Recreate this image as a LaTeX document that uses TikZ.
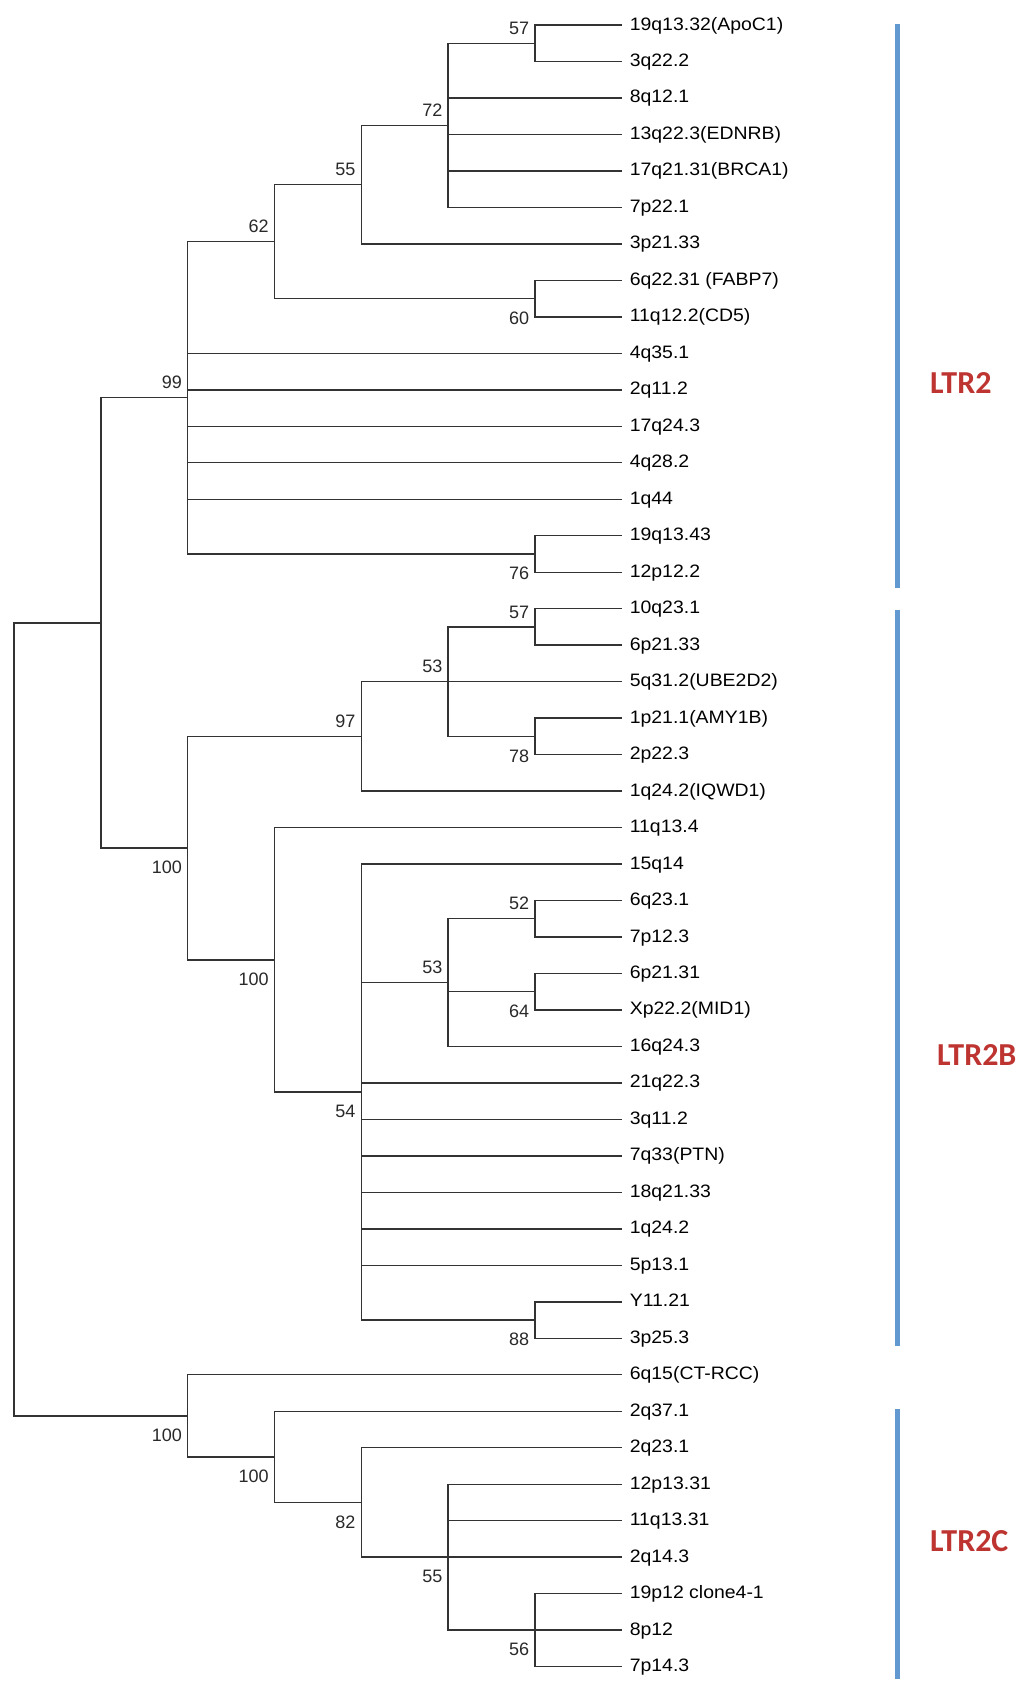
\documentclass[tikz,border=0pt]{standalone}
\usepackage{fontspec}
\setmainfont{Liberation Sans}
\newfontfamily\ltrfont{Carlito}
\definecolor{treeline}{HTML}{333333}
\definecolor{barblue}{RGB}{98,153,209}
\definecolor{ltrred}{RGB}{190,52,48}
\newcommand\leafy[1]{25+(#1-1)*36.48}
\begin{document}
\begin{tikzpicture}[x=1pt,y=-1pt,
  br/.style={draw=treeline,line width=1.4pt},
  leaflab/.style={anchor=base west,inner sep=0pt,font=\fontsize{18}{20}\selectfont},
  bsa/.style={anchor=south east,inner sep=0pt,font=\fontsize{18}{20}\selectfont,text=treeline!80!black},
  bsb/.style={anchor=north east,inner sep=0pt,font=\fontsize{18}{20}\selectfont,text=treeline!80!black},
  bar/.style={draw=barblue,line width=5pt},
  ltr/.style={anchor=west,inner sep=0pt,text=ltrred,font=\ltrfont\bfseries\fontsize{32}{36}\selectfont}]
\useasboundingbox (0,0) rectangle (1024,1687);
\fill[white] (0,0) rectangle (1024,1687);
% leaves
\foreach \i/\t in {1/{19q13.32(ApoC1)},2/{3q22.2},3/{8q12.1},4/{13q22.3(EDNRB)},5/{17q21.31(BRCA1)},6/{7p22.1},7/{3p21.33},8/{6q22.31 (FABP7)},9/{11q12.2(CD5)},10/{4q35.1},11/{2q11.2},12/{17q24.3},13/{4q28.2},14/{1q44},15/{19q13.43},16/{12p12.2},17/{10q23.1},18/{6p21.33},19/{5q31.2(UBE2D2)},20/{1p21.1(AMY1B)},21/{2p22.3},22/{1q24.2(IQWD1)},23/{11q13.4},24/{15q14},25/{6q23.1},26/{7p12.3},27/{6p21.31},28/{Xp22.2(MID1)},29/{16q24.3},30/{21q22.3},31/{3q11.2},32/{7q33(PTN)},33/{18q21.33},34/{1q24.2},35/{5p13.1},36/{Y11.21},37/{3p25.3},38/{6q15(CT-RCC)},39/{2q37.1},40/{2q23.1},41/{12p13.31},42/{11q13.31},43/{2q14.3},44/{19p12 clone4-1},45/{8p12},46/{7p14.3}}{
  \coordinate (l\i) at (621.6,{\leafy{\i}});
  \node[leaflab] (t\i) at (629.6,{\leafy{\i}+5}) {\scalebox{1.08}[1]{\t}};
}
% internal nodes
\coordinate (n57a) at (534.8,43.24);
\coordinate (n72) at (448,125.32);
\coordinate (n55a) at (361.2,184.60);
\coordinate (n60) at (534.8,298.60);
\coordinate (n62) at (274.4,241.60);
\coordinate (n76) at (534.8,553.96);
\coordinate (n99) at (187.6,397.78);
\coordinate (n57b) at (534.8,626.92);
\coordinate (n78) at (534.8,736.36);
\coordinate (n53a) at (448,681.64);
\coordinate (n97) at (361.2,736.36);
\coordinate (n52) at (534.8,918.76);
\coordinate (n64) at (534.8,991.72);
\coordinate (n53b) at (448,982.60);
\coordinate (n88) at (534.8,1320.04);
\coordinate (n54) at (361.2,1092.04);
\coordinate (n100b) at (274.4,959.80);
\coordinate (n100a) at (187.6,848.08);
\coordinate (nA) at (100.8,622.93);
\coordinate (n56) at (534.8,1630.12);
\coordinate (n55b) at (448,1557.16);
\coordinate (n82) at (361.2,1502.44);
\coordinate (n100d) at (274.4,1456.84);
\coordinate (n100c) at (187.6,1415.80);
\coordinate (root) at (14,1019.37);
% branches
\foreach \p/\c in {n57a/l1,n57a/l2,
  n72/n57a,n72/l3,n72/l4,n72/l5,n72/l6,
  n55a/n72,n55a/l7,
  n60/l8,n60/l9,
  n62/n55a,n62/n60,
  n76/l15,n76/l16,
  n99/n62,n99/l10,n99/l11,n99/l12,n99/l13,n99/l14,n99/n76,
  n57b/l17,n57b/l18,
  n78/l20,n78/l21,
  n53a/n57b,n53a/l19,n53a/n78,
  n97/n53a,n97/l22,
  n52/l25,n52/l26,
  n64/l27,n64/l28,
  n53b/n52,n53b/n64,n53b/l29,
  n88/l36,n88/l37,
  n54/l24,n54/n53b,n54/l30,n54/l31,n54/l32,n54/l33,n54/l34,n54/l35,n54/n88,
  n100b/l23,n100b/n54,
  n100a/n97,n100a/n100b,
  nA/n99,nA/n100a,
  n56/l44,n56/l45,n56/l46,
  n55b/l41,n55b/l42,n55b/l43,n55b/n56,
  n82/l40,n82/n55b,
  n100d/l39,n100d/n82,
  n100c/l38,n100c/n100d,
  root/nA,root/n100c}{
  \draw[br] (\p) |- (\c);
}
% bootstrap values above
\foreach \n/\v in {n57a/57,n72/72,n55a/55,n62/62,n99/99,n57b/57,n53a/53,n97/97,n52/52,n53b/53}{
  \node[bsa] (b\n) at ([shift={(-5.5,-8.5)}]\n) {\v};
}
% bootstrap values below
\foreach \n/\v in {n60/60,n76/76,n78/78,n100a/100,n100b/100,n64/64,n54/54,n88/88,n100c/100,n100d/100,n82/82,n55b/55,n56/56}{
  \node[bsb] (b\n) at ([shift={(-5.5,13)}]\n) {\v};
}
% clade bars
\coordinate (barAt) at (897,24);
\coordinate (barAb) at (897,588);
\coordinate (barBt) at (897,610);
\coordinate (barBb) at (897,1346);
\coordinate (barCt) at (897,1409);
\coordinate (barCb) at (897,1679);
\draw[bar] (barAt) -- (barAb);
\draw[bar] (barBt) -- (barBb);
\draw[bar] (barCt) -- (barCb);
\node[ltr] (ltrA) at (930,383) {LTR2};
\node[ltr] (ltrB) at (937,1055) {LTR2B};
\node[ltr] (ltrC) at (930,1541) {LTR2C};
\end{tikzpicture}
\end{document}
